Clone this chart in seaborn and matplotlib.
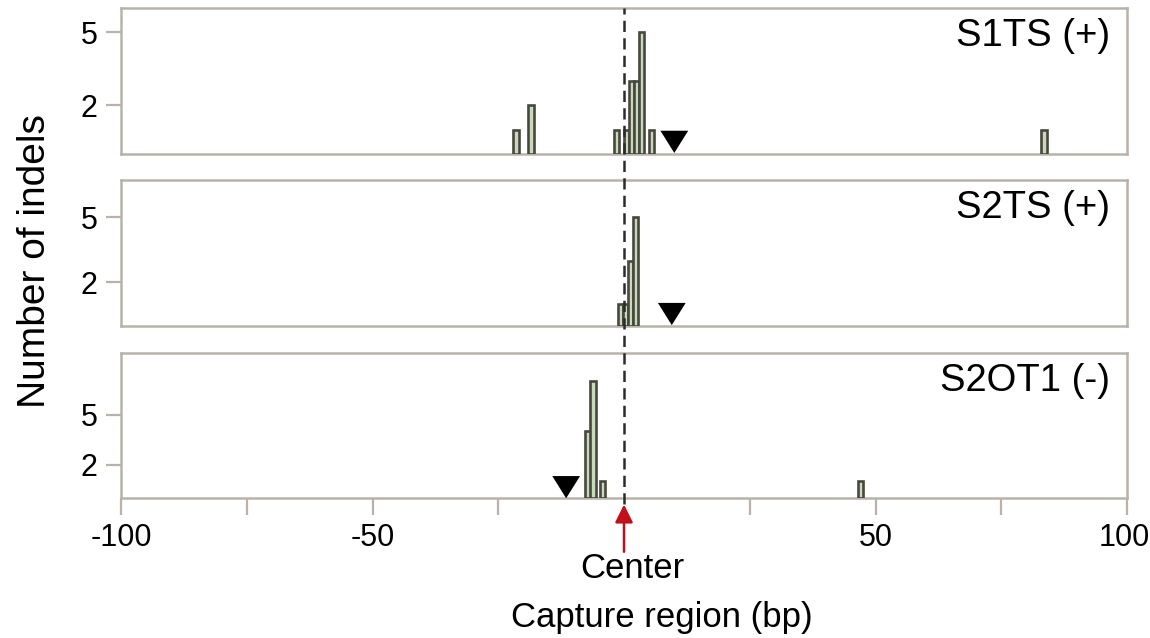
import numpy as np
import pandas as pd
import matplotlib
matplotlib.use("Agg")
import matplotlib.pyplot as plt
import matplotlib.transforms as mtransforms
import seaborn as sns
from matplotlib.path import Path

# ---- data ----
panel_names = ["S1TS (+)", "S2TS (+)", "S2OT1 (-)"]
s1ts_pos = [-21.5, -18.5, -1.5, 0.5, 1.5, 2.5, 3.5, 5.5, 83.5]
s1ts_cnt = [1, 2, 1, 1, 3, 3, 5, 1, 1]
s2ts_pos = [-0.7, 0.3, 1.3, 2.3]
s2ts_cnt = [1, 1, 3, 5]
s2ot1_pos = [-7.2, -6.2, -4.3, 47.0]
s2ot1_cnt = [4, 7, 1, 1]
cut_pos = [10, 9.5, -11.5]
cut_y = [0.5, 0.55, 0.65]
y_top = [6.0, 6.7, 8.7]
y_ticks = [2, 5]
x_ticks = [-100, -75, -50, -25, 25, 50, 75, 100]
x_ticklabels = ["-100", "", "-50", "", "", "50", "", "100"]

positions = [s1ts_pos, s2ts_pos, s2ot1_pos]
counts = [s1ts_cnt, s2ts_cnt, s2ot1_cnt]

# ---- style ----
sns.set_theme(style="white")
plt.rcParams['font.family'] = ['Liberation Sans', 'DejaVu Sans']
plt.rcParams['axes.unicode_minus'] = False
plt.rcParams['text.color'] = 'black'
plt.rcParams['xtick.labelcolor'] = 'black'
plt.rcParams['ytick.labelcolor'] = 'black'

spine_col = "#b8b2aa"
fill_col = "#c9d9bb"
edge_col = "#48483f"
TICK_FS = 22
YLABEL_FS = 28
XLABEL_FS = 25
PANEL_FS = 27.5
CENTER_FS = 25

fig = plt.figure(figsize=(11.5, 6.38), dpi=100)
left, right = 121 / 1150, 1127 / 1150
panels_px = [(8, 154), (180, 326), (353, 498)]
axes = []
for (t, b) in panels_px:
    ax = fig.add_axes([left, 1 - b / 638, right - left, (b - t) / 638])
    axes.append(ax)

tri = Path([(-1, 0.8), (1, 0.8), (0, -0.8), (-1, 0.8)],
           [Path.MOVETO, Path.LINETO, Path.LINETO, Path.CLOSEPOLY])

for i, ax in enumerate(axes):
    df = pd.DataFrame({"pos": positions[i], "n": counts[i]})
    sns.barplot(data=df, x="pos", y="n", native_scale=True, orient="x",
                width=1.12, color=fill_col, saturation=1, edgecolor=edge_col,
                linewidth=1.9, errorbar=None, ax=ax, zorder=3)
    sns.scatterplot(x=[cut_pos[i]], y=[cut_y[i]], marker=tri, s=400,
                    color="black", edgecolor="none", ax=ax, zorder=4,
                    legend=False)
    ax.set_xlim(-100, 100)
    ax.set_ylim(0, y_top[i])
    ax.set_yticks(y_ticks)
    ax.set_yticklabels([str(v) for v in y_ticks], fontsize=TICK_FS)
    ax.set_xlabel("")
    ax.set_ylabel("")
    for s in ax.spines.values():
        s.set_visible(True)
        s.set_color(spine_col)
        s.set_linewidth(1.8)
    ax.tick_params(axis="y", length=11, width=1.6, color=spine_col,
                   pad=6, left=True, labelsize=TICK_FS, labelcolor="black")
    ax.text(0.983, 0.81, panel_names[i], transform=ax.transAxes,
            ha="right", va="center", fontsize=PANEL_FS, color="black")
    if i < 2:
        ax.set_xticks([])
    else:
        ax.set_xticks(x_ticks)
        ax.set_xticklabels(x_ticklabels, fontsize=TICK_FS)
        ax.tick_params(axis="x", length=12, width=1.6, color=spine_col,
                       pad=6, bottom=True, labelsize=TICK_FS,
                       labelcolor="black")
        last = ax.get_xticklabels()[-1]
        last.set_transform(last.get_transform() +
                           mtransforms.ScaledTranslation(-2 / 72, 0,
                                                         fig.dpi_scale_trans))

# dashed center line across all panels
ax3 = axes[2]
top_fig = axes[0].get_position().y1
b3 = ax3.get_position()
ymax = (top_fig - b3.y0) / b3.height
ax3.axvline(0, ymin=-0.04, ymax=ymax, clip_on=False, color="#2b2b2b",
            lw=1.8, ls=(0, (4.5, 2.5)), zorder=5)

# Center arrow
ax3.annotate("", xy=(0, -0.045), xycoords=("data", "axes fraction"),
             xytext=(0, -34), textcoords="offset points",
             arrowprops=dict(arrowstyle="-|>", color="#c0101a", lw=1.8,
                             mutation_scale=27, shrinkA=0, shrinkB=0))
ax3.annotate("Center", xy=(0, 0), xycoords=("data", "axes fraction"),
             xytext=(6, -39), textcoords="offset points",
             ha="center", va="top", fontsize=CENTER_FS, color="black")

fig.text(662 / 1150, 1 - 617 / 638, "Capture region (bp)", ha="center",
         va="center", fontsize=XLABEL_FS, color="black")
fig.text(35 / 1150, 1 - 261 / 638, "Number of indels", ha="center",
         va="center", rotation=90, fontsize=YLABEL_FS, color="black")

fig.savefig("out.png", dpi=100)
